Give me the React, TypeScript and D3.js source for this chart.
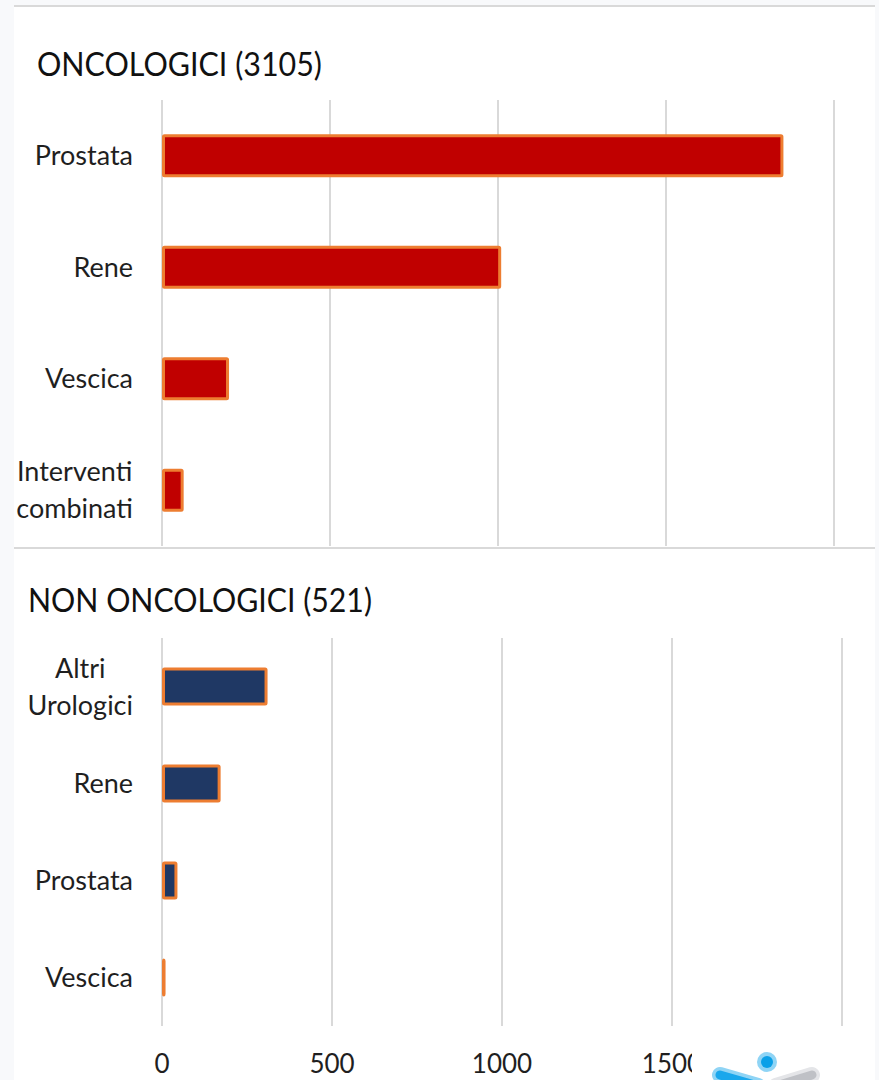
import React, { useRef, useEffect } from 'react';
import * as d3 from 'd3';

const W = 879;
const H = 1080;

const oncoLabels = [['Prostata'], ['Rene'], ['Vescica'], ['Interventi', 'combinati']];
const oncoValues = [1845, 1005, 195, 60];
const nonOncoLabels = [['Altri', 'Urologici'], ['Rene'], ['Prostata'], ['Vescica']];
const nonOncoValues = [306, 168, 41, 6];
const ticks = [0, 500, 1000, 1500, 2000];

const font = 'Lato, "Open Sans", sans-serif';
const labelSize = 27;
const lineH = 37;

export default function App() {
    const ref = useRef<SVGSVGElement>(null);

    useEffect(() => {
        if (!ref.current) return;
        const svg = d3.select(ref.current);
        svg.selectAll('*').remove();

        // page background + card
        svg.append('rect').attr('width', W).attr('height', H).style('fill', '#f8f9fb');
        svg.append('rect').attr('x', 14).attr('y', 6).attr('width', 861).attr('height', H - 6).style('fill', '#fff');
        svg.append('rect').attr('x', 14).attr('y', 5).attr('width', 861).attr('height', 2).style('fill', '#d9d9d9');

        const panel = (opts: any) => {
            const { title, titleX, titleY, titleLen, labels, values, top, bottom, xRange, fill } = opts;
            const g = svg.append('g');
            const x = d3.scaleLinear().domain([0, 2000]).range(xRange);
            const y = d3.scaleBand<number>().domain(d3.range(labels.length)).range([top, bottom])
                .paddingInner(0.64).paddingOuter(0.32);

            g.append('text')
                .attr('x', titleX).attr('y', titleY)
                .attr('textLength', titleLen).attr('lengthAdjust', 'spacingAndGlyphs')
                .style('font-family', font).style('font-size', '32px').style('fill', '#111')
                .text(title);

            g.selectAll('line.grid').data(ticks).enter().append('line')
                .attr('x1', d => x(d)).attr('x2', d => x(d))
                .attr('y1', top).attr('y2', bottom)
                .style('stroke', '#d9d9d9').style('stroke-width', 2);

            g.selectAll('rect.bar').data(values).enter().append('rect')
                .attr('x', x(0) + 1.5)
                .attr('y', (d, i) => y(i)!)
                .attr('width', (d: number) => Math.max(0, x(d) - x(0) - 1.5))
                .attr('height', y.bandwidth())
                .attr('rx', 1)
                .style('fill', fill).style('stroke', '#ed7d31').style('stroke-width', 3);

            labels.forEach((lines: string[], i: number) => {
                const cy = y(i)! + y.bandwidth() / 2;
                const t = g.append('text')
                    .style('font-family', font).style('font-size', labelSize + 'px').style('fill', '#1f1f1f');
                const spans = lines.map((l, k) => t.append('tspan')
                    .attr('y', cy + labelSize * 0.36 + (k - (lines.length - 1) / 2) * lineH)
                    .text(l));
                if (lines.length === 1) {
                    t.attr('text-anchor', 'end');
                    spans.forEach(s => s.attr('x', 133));
                } else {
                    const wmax = d3.max(spans, s => (s.node() as SVGTextContentElement).getComputedTextLength()) || 0;
                    t.attr('text-anchor', 'middle');
                    spans.forEach(s => s.attr('x', 133 - wmax / 2));
                }
            });
            return x;
        };

        panel({
            title: 'ONCOLOGICI (3105)', titleX: 37, titleY: 76, titleLen: 285,
            labels: oncoLabels, values: oncoValues, top: 100, bottom: 546, xRange: [162, 834], fill: '#c00000',
        });

        svg.append('rect').attr('x', 14).attr('y', 547).attr('width', 861).attr('height', 2).style('fill', '#d9d9d9');

        const xb = panel({
            title: 'NON ONCOLOGICI (521)', titleX: 28, titleY: 612, titleLen: 344,
            labels: nonOncoLabels, values: nonOncoValues, top: 638, bottom: 1026, xRange: [162, 842], fill: '#1f3864',
        });

        svg.append('g').selectAll('text').data(ticks).enter().append('text')
            .attr('x', d => xb(d)).attr('y', 1073)
            .attr('text-anchor', 'middle')
            .style('font-family', font).style('font-size', '26px').style('fill', '#1f1f1f')
            .text(d => d3.format('d')(d));

        // logo overlapping the axis
        svg.append('rect').attr('x', 692).attr('y', 1040).attr('width', 183).attr('height', 40).style('fill', '#fff');
        const logo = svg.append('g');
        logo.append('path').attr('d', 'M 720 1075 L 758 1086')
            .style('stroke', '#8fd4f5').style('stroke-width', 16).style('stroke-linecap', 'round').style('fill', 'none');
        logo.append('path').attr('d', 'M 720 1075 L 758 1086')
            .style('stroke', '#1aa7ec').style('stroke-width', 9).style('stroke-linecap', 'round').style('fill', 'none');
        logo.append('path').attr('d', 'M 776 1086 L 812 1075')
            .style('stroke', '#e4e5e8').style('stroke-width', 16).style('stroke-linecap', 'round').style('fill', 'none');
        logo.append('path').attr('d', 'M 776 1086 L 812 1075')
            .style('stroke', '#bfc1c6').style('stroke-width', 9).style('stroke-linecap', 'round').style('fill', 'none');
        logo.append('circle').attr('cx', 767).attr('cy', 1062).attr('r', 10).style('fill', '#8fd4f5');
        logo.append('circle').attr('cx', 767).attr('cy', 1062).attr('r', 6).style('fill', '#0aa0e8');
    }, []);

    return (
        <svg ref={ref} width={W} height={H} style={{ position: 'absolute', left: 0, top: 0 }} />
    );
}
